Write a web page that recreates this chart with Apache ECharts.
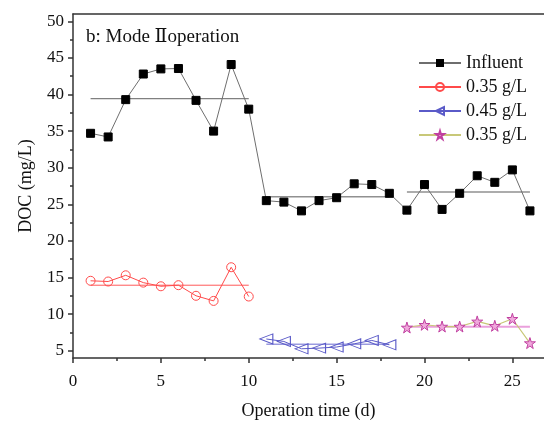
<!DOCTYPE html>
<html><head><meta charset="utf-8">
<script src="https://cdn.jsdelivr.net/npm/echarts@6/dist/echarts.min.js"></script>
<style>html,body{margin:0;padding:0;background:#fff;overflow:hidden}#c{width:544px;height:421px}</style>
</head><body><div id="c"></div>
<script>
// ---- data ----
const days = [1,2,3,4,5,6,7,8,9,10,11,12,13,14,15,16,17,18,19,20,21,22,23,24,25,26];
const influent = [34.7,34.2,39.3,42.8,43.5,43.55,39.2,35.0,44.1,38.0,25.5,25.3,24.1,25.5,25.9,27.8,27.7,26.5,24.2,27.7,24.3,26.5,28.9,28.0,29.7,24.1];
const daysA = [1,2,3,4,5,6,7,8,9,10];
const reactorA = [14.55,14.45,15.3,14.3,13.8,13.95,12.5,11.8,16.4,12.4];
const daysB = [11,12,13,14,15,16,17,18];
const reactorB = [6.6,6.26,5.26,5.35,5.5,5.94,6.4,5.8];
const daysC = [19,20,21,22,23,24,25,26];
const reactorC = [8.17,8.54,8.3,8.3,9.0,8.4,9.36,6.04];
const seriesNames = ['Influent','0.35 g/L','0.45 g/L','0.35 g/L '];
const xLabels = [0,5,10,15,20,25];
const xMinor = [2.5,7.5,12.5,17.5,22.5];
const yLabels = [5,10,15,20,25,30,35,40,45,50];
const yMinor = [7.5,12.5,17.5,22.5,27.5,32.5,37.5,42.5,47.5];

// ---- helpers ----
const pairs = (xs, ys) => xs.map((x,i)=>[x, ys[i]]);
const mean = a => a.reduce((s,v)=>s+v,0)/a.length;
const meanLine = (xs, ys) => { const m = mean(ys); return [[xs[0], m],[xs[xs.length-1], m]]; };
const infA = influent.slice(0,10), infB = influent.slice(10,18), infC = influent.slice(18,26);

const FONT = 'Liberation Serif';
const STAR = 'path://M50,0 L61,35 L98,35 L68,57 L79,91 L50,70 L21,91 L32,57 L2,35 L39,35 Z';
const axisCol = '#333';
const XMAX = 26.8;

const chart = echarts.init(document.getElementById('c'), null, {renderer:'canvas'});
function meanSeries(name, data, color, w){
  return {name, type:'line', data, symbol:'none', silent:true, z:1,
    lineStyle:{color, width:w||1}, animation:false};
}
chart.setOption({
  animation:false,
  textStyle:{fontFamily:FONT},
  grid:{left:73, top:14, right:0, height:344, show:false, containLabel:false, outerBoundsMode:'none'},
  graphic:[{type:'text', left:86, top:28, style:{text:'b: Mode \u2161operation', font:'19px "Liberation Serif", "DejaVu Serif", serif', fill:'#111'}}],
  legend:{orient:'vertical', left:413, top:49, itemWidth:42, itemHeight:10, itemGap:6,
    data:seriesNames, textStyle:{fontFamily:FONT, fontSize:18, color:'#111'}, selectedMode:false},
  xAxis:[{type:'value', min:0, max:XMAX, position:'bottom',
      name:'Operation time (d)', nameLocation:'middle', nameGap:44,
      nameTextStyle:{fontFamily:FONT, fontSize:18, color:'#111'},
      axisLine:{show:true, onZero:false, lineStyle:{color:axisCol, width:1.5}},
      axisTick:{show:true, inside:false, length:5, customValues:xLabels, lineStyle:{color:axisCol, width:1.5}},
      axisLabel:{customValues:xLabels, fontFamily:FONT, fontSize:17, color:'#111', margin:15},
      splitLine:{show:false}, minorSplitLine:{show:false}},
    {type:'value', min:0, max:XMAX, position:'bottom',
      axisLine:{show:false, onZero:false}, axisTick:{show:true, length:3, customValues:xMinor, lineStyle:{color:axisCol, width:1.5}},
      axisLabel:{show:false}, splitLine:{show:false}, minorSplitLine:{show:false}},
    {type:'value', min:0, max:XMAX, position:'top',
      axisLine:{show:true, onZero:false, lineStyle:{color:axisCol, width:1.5}}, axisTick:{show:false},
      axisLabel:{show:false}, splitLine:{show:false}, minorSplitLine:{show:false}}],
  yAxis:[{type:'value', min:4, max:51, position:'left',
      name:'DOC (mg/L)', nameLocation:'middle', nameGap:38, nameRotate:90,
      nameTextStyle:{fontFamily:FONT, fontSize:18, color:'#111'},
      axisLine:{show:true, onZero:false, lineStyle:{color:axisCol, width:1.5}},
      axisTick:{show:true, inside:false, length:5, customValues:yLabels, lineStyle:{color:axisCol, width:1.5}},
      axisLabel:{customValues:yLabels, fontFamily:FONT, fontSize:17, color:'#111', margin:9},
      splitLine:{show:false}},
    {type:'value', min:4, max:51, position:'left', offset:0,
      axisLine:{show:false, onZero:false}, axisTick:{show:true, length:3, customValues:yMinor, lineStyle:{color:axisCol, width:1.5}},
      axisLabel:{show:false}, splitLine:{show:false}}],
  series:[
    meanSeries('m1', meanLine(daysA, infA), '#808080', 1.2),
    meanSeries('m2', meanLine(daysB, infB), '#909090', 1.5),
    meanSeries('m3', meanLine(daysC, infC), '#909090', 1.5),
    meanSeries('m4', meanLine(daysA, reactorA), '#ff5a5a', 1),
    meanSeries('m5', meanLine(daysB, reactorB), '#6a6ad0', 1),
    meanSeries('m6', meanLine(daysC, reactorC), '#eaa0dc', 2),
    {name:seriesNames[0], type:'line', data:pairs(days, influent), symbol:'rect', symbolSize:8, z:3,
      lineStyle:{color:'#6e6e6e', width:1}, itemStyle:{color:'#000', borderColor:'#000'}},
    {name:seriesNames[1], type:'line', data:pairs(daysA, reactorA), symbol:'circle', symbolSize:9, z:3,
      lineStyle:{color:'#ff4a4a', width:1}, itemStyle:{color:'rgba(255,255,255,0)', borderColor:'#ff4a4a', borderWidth:1}},
    {name:seriesNames[2], type:'line', data:pairs(daysB, reactorB), symbol:'triangle', symbolRotate:90, symbolSize:[10,13], z:3,
      lineStyle:{color:'#5a5ac8', width:1}, itemStyle:{color:'rgba(255,255,255,0)', borderColor:'#5a5ac8', borderWidth:1}},
    {name:seriesNames[3], type:'line', data:pairs(daysC, reactorC), symbol:STAR, symbolSize:11, z:3,
      lineStyle:{color:'#c8c878', width:1.2}, itemStyle:{color:'#f0a8dc', borderColor:'#c040a0', borderWidth:1}}
  ]
});
</script></body></html>
